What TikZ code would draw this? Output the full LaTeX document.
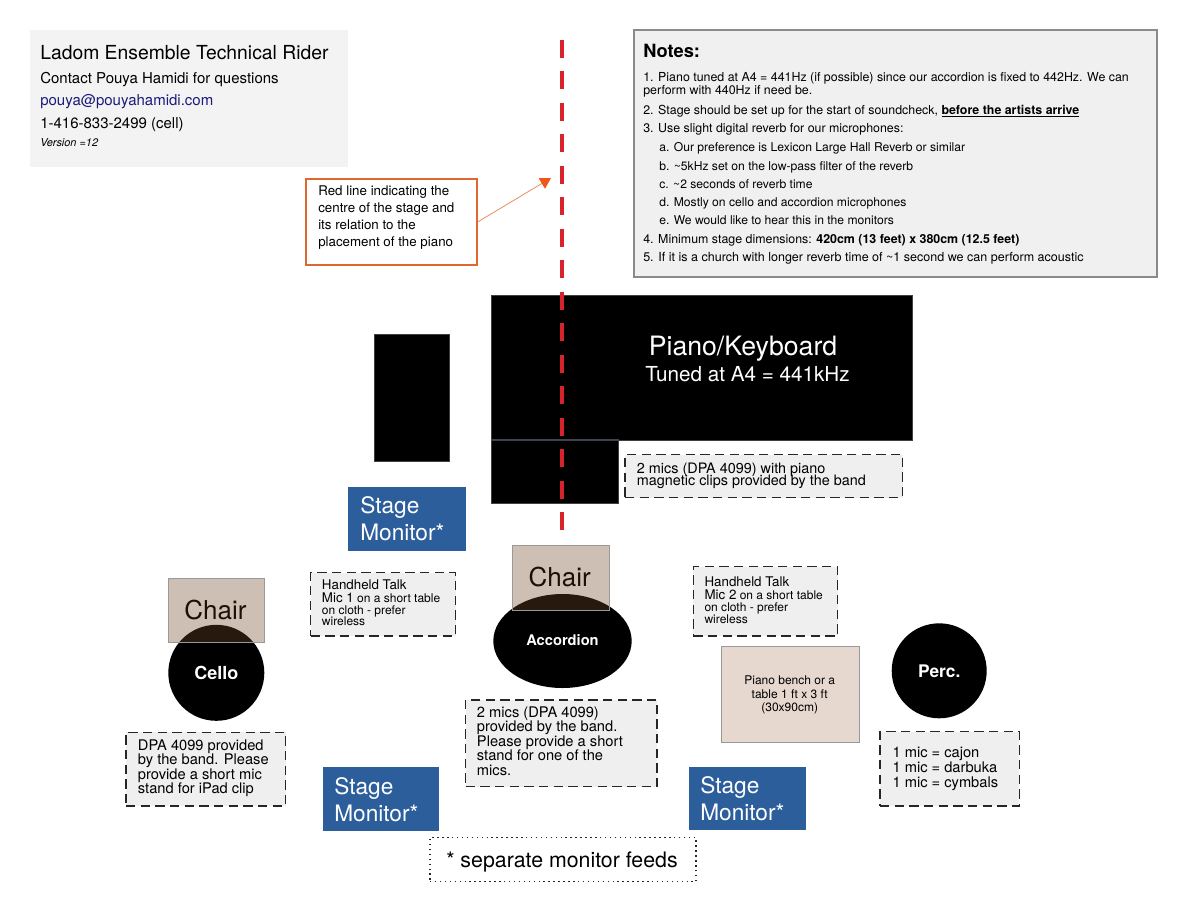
\documentclass[tikz,border=0pt]{standalone}
\usepackage{fontspec}
\setmainfont{TeX Gyre Heros}
\usetikzlibrary{arrows.meta,shapes.geometric,fit}
\definecolor{infogray}{HTML}{F3F3F4}
\definecolor{notesfill}{HTML}{F0F0F0}
\definecolor{notesdraw}{HTML}{8A8A8A}
\definecolor{boxgray}{HTML}{EFEFEF}
\definecolor{mblue}{HTML}{2B5E9B}
\definecolor{benchfill}{HTML}{E6D8CE}
\definecolor{chairbrown}{HTML}{754A2B}
\definecolor{callorange}{HTML}{E0672E}
\definecolor{arrowline}{HTML}{E8905E}
\definecolor{arrowhead}{HTML}{F0561A}
\definecolor{redline}{HTML}{D9232A}
\definecolor{emailblue}{HTML}{1B1B7A}
\definecolor{chairtext}{HTML}{1A1008}
\definecolor{seam}{HTML}{3A4656}
\newcommand\fsz[1]{\fontsize{#1}{#1}\selectfont}
\begin{document}
\begin{tikzpicture}[x=0.75pt,y=-0.75pt,
  tl/.style={inner sep=0pt, anchor=base west, text=black},
  tc/.style={inner sep=0pt, anchor=base, text=black},
  area/.style={inner sep=0pt},
  dbox/.style={area, draw=black!85, dash pattern=on 7pt off 4pt, line width=1.1pt, fill=boxgray},
  monitor/.style={area, fill=mblue},
  montext/.style={tl, text=white, font=\fsz{17}},
  blackbox/.style={area, fill=black, draw=black!75, line width=0.5pt},
  chairbox/.style={area, fill=chairbrown, fill opacity=0.35, draw=black!40, line width=0.6pt},
  chairtxt/.style={tc, text=chairtext, font=\fsz{19.5}},
  player/.style={inner sep=0pt, fill=black, text=white, font=\bfseries\fsz{13.5}}
]
\useasboundingbox (0,0) rectangle (1188,918);
\fill[white] (0,0) rectangle (1188,918);

% ---------- info box
\node[area, fill=infogray, fit={(30,30) (348,167)}] (info) {};
\node[tl, font=\fsz{14.5}] (title) at (40,59.3) {Ladom Ensemble Technical Rider};
\node[tl, font=\fsz{11.25}] (contact) at (40,83.3) {Contact Pouya Hamidi for questions};
\node[tl, font=\fsz{11.25}, text=emailblue] (mail) at (40,105) {pouya@pouyahamidi.com};
\node[tl, font=\fsz{11.25}] (phone) at (40,128) {1-416-833-2499 (cell)};
\node[tl, font=\itshape\fsz{8.2}] (ver) at (40,146) {Version =12};

% ---------- notes box
\node[area, fill=notesfill, draw=notesdraw, line width=0.8pt, fit={(634,30) (1157,277)}] (notes) {};
\node[tl, font=\bfseries\fsz{13.7}] (nhead) at (643,57) {Notes:};
\node[tl, font=\fsz{9.3}] (n1) at (643,81) {1. Piano tuned at A4 = 441Hz (if possible) since our accordion is fixed to 442Hz. We can};
\node[tl, font=\fsz{9.3}] (n1b) at (643,94.5) {perform with 440Hz if need be.};
\node[tl, font=\fsz{9.3}] (n2) at (643,114) {2. Stage should be set up for the start of soundcheck, \underline{\textbf{before the artists arrive}}};
\node[tl, font=\fsz{9.3}] (n3) at (643,132.8) {3. Use slight digital reverb for our microphones:};
\node[tl, font=\fsz{9.1}] (na) at (659,151.7) {a. Our preference is Lexicon Large Hall Reverb or similar};
\node[tl, font=\fsz{9.1}] (nb) at (659,170) {b. \textasciitilde5kHz set on the low-pass filter of the reverb};
\node[tl, font=\fsz{9.1}] (nc) at (659,188.3) {c. \textasciitilde2 seconds of reverb time};
\node[tl, font=\fsz{9.1}] (nd) at (659,206.3) {d. Mostly on cello and accordion microphones};
\node[tl, font=\fsz{9.1}] (ne) at (659,224.5) {e. We would like to hear this in the monitors};
\node[tl, font=\fsz{9.3}] (n4) at (643,243.3) {4. Minimum stage dimensions: \textbf{420cm (13 feet) x 380cm (12.5 feet)}};
\node[tl, font=\fsz{9.4}] (n5) at (643,261.8) {5. If it is a church with longer reverb time of \textasciitilde1 second we can perform acoustic};

% ---------- callout
\node[area, fill=white, draw=callorange, line width=1pt, fit={(306,179) (477,265)}] (callout) {};
\foreach \t [count=\i] in {{Red line indicating the},{centre of the stage and},{its relation to the},{placement of the piano}}
  \node[tl, font=\fsz{10}] (call\i) at (318,{195+17*(\i-1)}) {\t};
\coordinate (tip) at (551,178);
\draw[arrowline, line width=0.6pt, -{Triangle[length=8pt,width=9pt,color=arrowhead,fill=arrowhead]}] (callout.east) -- (tip);

% ---------- piano
\node[blackbox, fit={(491.7,295) (912.3,440)}] (piano) {};
\node[blackbox, fit={(491.7,440) (618.3,503.3)}] (pianolow) {};
\draw[seam, line width=0.6pt] (pianolow.north west) -- (pianolow.north east);
\node[tc, text=white, font=\fsz{20}] (ptitle) at (743,355.7) {Piano/Keyboard};
\node[tc, text=white, font=\fsz{15.5}] (ptune) at (747.5,381.5) {Tuned at A4 = 441kHz};

\node[dbox, fit={(625,454.5) (902.5,497.5)}] (pmics) {};
\node[tl, font=\fsz{10.8}] (pm1) at (636.7,473.3) {2 mics (DPA 4099) with piano};
\node[tl, font=\fsz{10.8}] (pm2) at (636.7,485.7) {magnetic clips provided by the band};

% ---------- small black box
\node[blackbox, fit={(374.3,334) (449,461.7)}] (smallbox) {};

% ---------- red centre line
\coordinate (rtop) at (562,40);
\coordinate (rbot) at (562,530);
\draw[redline, line width=3pt, dash pattern=on 13.5pt off 10.1pt] (rtop) -- (rbot);

% ---------- stage monitors
\node[monitor, fit={(348.3,486.7) (465.7,550.7)}] (mon1) {};
\node[montext] (mon1a) at (360,513.5) {Stage};
\node[montext] (mon1b) at (360,540.5) {Monitor*};

\node[monitor, fit={(323.3,767.3) (439.3,831)}] (mon2) {};
\node[montext] (mon2a) at (334,794.3) {Stage};
\node[montext] (mon2b) at (334,821) {Monitor*};

\node[monitor, fit={(689,766.7) (805.7,830)}] (mon3) {};
\node[montext] (mon3a) at (700,793.5) {Stage};
\node[montext] (mon3b) at (700,820.3) {Monitor*};

% ---------- handheld mic 1
\node[dbox, fit={(310.7,572.7) (455.7,636)}] (hh1) {};
\node[tl, font=\fsz{10}] (hh1a) at (321.7,589.3) {Handheld Talk};
\node[tl, font=\fsz{10}] (hh1b) at (321.7,602.3) {Mic 1{\fsz{9} on a short table}};
\node[tl, font=\fsz{9}] (hh1c) at (321.7,614.5) {on cloth - prefer};
\node[tl, font=\fsz{9}] (hh1d) at (321.7,625.7) {wireless};

% ---------- handheld mic 2
\node[dbox, fit={(693.3,566.7) (837.7,636)}] (hh2) {};
\node[tl, font=\fsz{10}] (hh2a) at (704.3,586) {Handheld Talk};
\node[tl, font=\fsz{10}] (hh2b) at (704.3,599.3) {Mic 2{\fsz{9} on a short table}};
\node[tl, font=\fsz{9}] (hh2c) at (704.3,611.8) {on cloth - prefer};
\node[tl, font=\fsz{9}] (hh2d) at (704.3,623.3) {wireless};

% ---------- accordion
\node[player, ellipse, minimum width=103.8pt, minimum height=70.5pt] (acc) at (562.5,641) {};
\node[chairbox, fit={(512.3,545.7) (609,610)}] (chair2) {};
\node[chairtxt] (chair2t) at (559.7,586.7) {Chair};
\node[inner sep=0pt, text=white, font=\bfseries\fsz{11}] (acct) at (562.5,640.5) {Accordion};

\node[dbox, fit={(465.7,700) (657,786.7)}] (accmics) {};
\foreach \t [count=\i] in {{2 mics (DPA 4099)},{provided by the band.},{Please provide a short},{stand for one of the},{mics.}}
  \node[tl, font=\fsz{11}] (am\i) at (476.7,{717.5+14.4*(\i-1)}) {\t};

% ---------- cello
\node[player, circle, minimum size=72pt] (cello) at (216.3,672.8) {};
\node[chairbox, fit={(168.3,578.3) (264.3,642.7)}] (chair1) {};
\node[chairtxt] (chair1t) at (215.5,619.3) {Chair};
\node[inner sep=0pt, text=white, font=\bfseries\fsz{13.5}] (cellot) at (216.3,673) {Cello};

\node[dbox, fit={(126,732.3) (285.7,806)}] (cmics) {};
\foreach \t [count=\i] in {{DPA 4099 provided},{by the band. Please},{provide a short mic},{stand for iPad clip}}
  \node[tl, font=\fsz{11}] (cm\i) at (137.7,{750+14.5*(\i-1)}) {\t};

% ---------- piano bench
\node[area, fill=benchfill, draw=black!40, line width=0.6pt, fit={(721.7,646.7) (859.3,742.3)}] (bench) {};
\node[tc, font=\fsz{9}] (b1) at (789.7,684.3) {Piano bench or a};
\node[tc, font=\fsz{9}] (b2) at (789.7,698.3) {table 1 ft x 3 ft};
\node[tc, font=\fsz{9}] (b3) at (789.7,711.7) {(30x90cm)};

% ---------- percussion
\node[player, circle, minimum size=71.25pt, font=\bfseries\fsz{13}] (perc) at (939.2,670.8) {Perc.};
\node[dbox, fit={(880,731.7) (1019.3,806)}] (pmic) {};
\node[tl, font=\fsz{11}] (pc1) at (892.3,757.3) {1 mic = cajon};
\node[tl, font=\fsz{11}] (pc2) at (892.3,772.3) {1 mic = darbuka};
\node[tl, font=\fsz{11}] (pc3) at (892.3,787.3) {1 mic = cymbals};

% ---------- footnote
\node[area, draw=black!85, line width=1.1pt, dash pattern=on 1.1pt off 2.6pt, fit={(430,837.7) (696,881.7)}] (feeds) {};
\node[tc, font=\fsz{16}] (feedst) at (562,867.3) {* separate monitor feeds};
\end{tikzpicture}
\end{document}
